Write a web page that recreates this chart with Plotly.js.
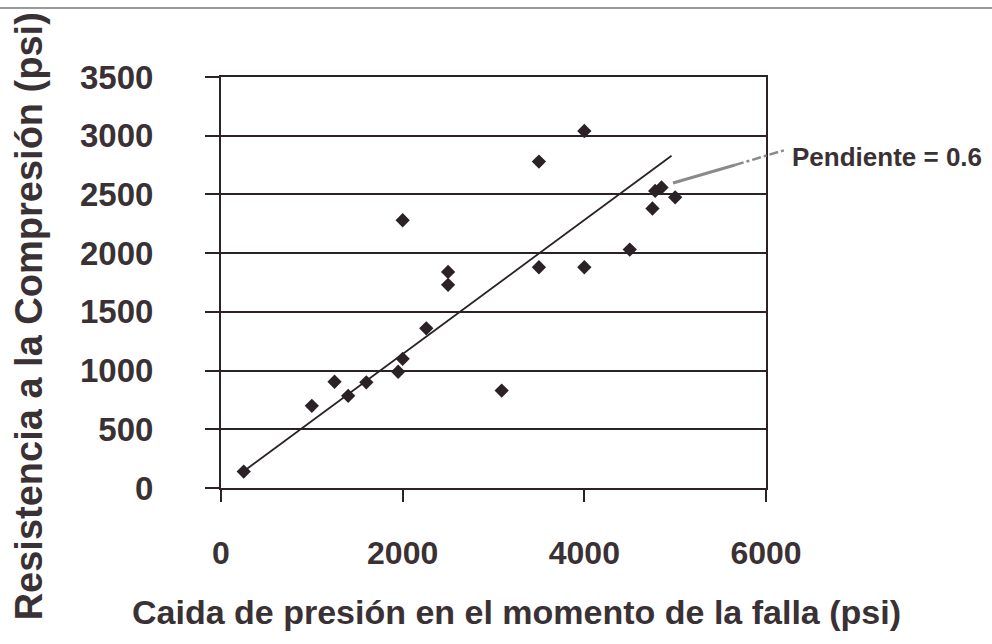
<!DOCTYPE html>
<html>
<head>
<meta charset="utf-8">
<script src="https://cdn.plot.ly/plotly-3.0.1.min.js"></script>
<style>html,body{margin:0;padding:0;background:#fff;}#chart{width:992px;height:644px;}</style>
</head>
<body>
<div id="chart"></div>
<script>
// Data
var caidaPresion = [250, 1000, 1250, 1400, 1600, 1950, 2000, 2260, 2500, 2500, 3090, 2000, 3500, 3500, 4000, 4000, 4500, 4750, 4780, 4850, 5000];
var resistencia  = [140, 700, 905, 785, 900, 990, 1100, 1360, 1730, 1840, 830, 2280, 2780, 1880, 3040, 1880, 2030, 2380, 2530, 2560, 2475];
var trendX = [280, 4960];
var trendY = [160, 2830];
var xTicks = [0, 2000, 4000, 6000];
var yTicks = [0, 500, 1000, 1500, 2000, 2500, 3000, 3500];
var xTitle = "Caida de presión en el momento de la falla (psi)";
var yTitle = "Resistencia a la Compresión (psi)";
var slopeLabel = "Pendiente = 0.6";

var ink = "#2a2226";
var textCol = "#3a3135";
var fnt = "Liberation Sans, Arial, sans-serif";

var traces = [
  {x: caidaPresion, y: resistencia, mode: "markers", type: "scatter",
   marker: {symbol: "diamond", size: 11, color: ink}, cliponaxis: false},
  {x: trendX, y: trendY, mode: "lines", type: "scatter",
   line: {color: ink, width: 1.8}}
];

var layout = {
  width: 992, height: 644,
  margin: {l: 221, r: 226, t: 77, b: 156},
  paper_bgcolor: "#fff", plot_bgcolor: "#fff",
  showlegend: false,
  font: {family: fnt, color: textCol},
  xaxis: {
    range: [0, 6000], tickvals: xTicks, ticktext: xTicks.map(String),
    showgrid: false, zeroline: false,
    showline: true, mirror: true, linecolor: ink, linewidth: 2,
    ticks: "outside", ticklen: 12, tickwidth: 2, tickcolor: ink,
    ticklabelstandoff: 24,
    tickfont: {family: fnt, size: 32, color: textCol, weight: "bold"}
  },
  yaxis: {
    range: [0, 3500], tickvals: yTicks, ticktext: yTicks.map(String),
    showgrid: true, gridcolor: ink, gridwidth: 2, zeroline: false,
    showline: true, mirror: true, linecolor: ink, linewidth: 2,
    ticks: "outside", ticklen: 14, tickwidth: 2, tickcolor: ink,
    ticklabelstandoff: 45,
    tickfont: {family: fnt, size: 33, color: textCol, weight: "bold"}
  },
  annotations: [
    {text: xTitle, xref: "paper", yref: "paper", x: 0.543, y: -0.302,
     xanchor: "center", yanchor: "middle", showarrow: false,
     font: {family: fnt, size: 34, color: textCol, weight: "bold"}},
    {text: yTitle, xref: "paper", yref: "paper", x: -0.352, y: 0.418,
     xanchor: "center", yanchor: "middle", showarrow: false, textangle: -90,
     font: {family: fnt, size: 38, color: textCol, weight: "bold"}},
    {text: slopeLabel, xref: "paper", yref: "paper", x: 1.044, y: 0.805,
     xanchor: "left", yanchor: "middle", showarrow: false,
     font: {family: fnt, size: 26, color: textCol, weight: "bold"}}
  ],
  shapes: [
    {type: "line", xref: "paper", yref: "paper", x0: 0.8294, y0: 0.7421, x1: 0.9431, y1: 0.7859,
     line: {color: "#8a8a8a", width: 3}},
    {type: "line", xref: "paper", yref: "paper", x0: 0.9431, y0: 0.7859, x1: 1.0349, y1: 0.8224,
     line: {color: "#8a8a8a", width: 2.5, dash: "dashdot"}},
    {type: "line", xref: "paper", yref: "paper", x0: -0.5, y0: 1.168, x1: 1.5, y1: 1.168,
     line: {color: "#9a9a9a", width: 2}}
  ]
};

Plotly.newPlot("chart", traces, layout, {staticPlot: true, displayModeBar: false});
</script>
</body>
</html>
